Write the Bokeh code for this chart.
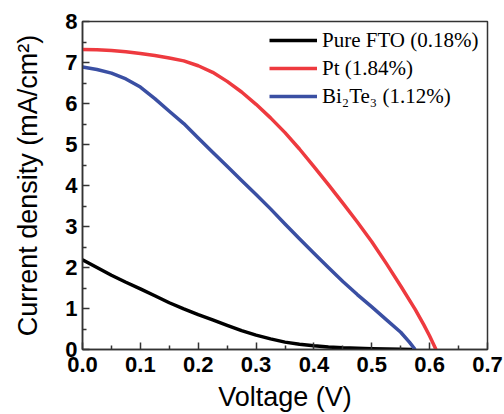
from bokeh.plotting import figure
from bokeh.models import Range1d, FixedTicker, PrintfTickFormatter, Legend, LegendItem
from bokeh.embed import file_html
from bokeh.resources import INLINE

# Data
voltage_fto = [0.0, 0.025, 0.05, 0.075, 0.1, 0.125, 0.15, 0.175, 0.2, 0.225, 0.25, 0.275, 0.3,
               0.325, 0.35, 0.375, 0.4, 0.425, 0.45, 0.475, 0.5, 0.525, 0.55, 0.57]
current_fto = [2.19, 2.0, 1.81, 1.64, 1.48, 1.31, 1.14, 0.99, 0.85, 0.72, 0.59, 0.46, 0.35,
               0.26, 0.18, 0.13, 0.09, 0.06, 0.04, 0.03, 0.02, 0.01, 0.005, 0.0]

voltage_pt = [0.0, 0.025, 0.05, 0.075, 0.1, 0.125, 0.15, 0.175, 0.2, 0.225, 0.25, 0.275, 0.3,
              0.325, 0.35, 0.375, 0.4, 0.425, 0.45, 0.475, 0.5, 0.525, 0.55, 0.575, 0.59, 0.6, 0.611]
current_pt = [7.32, 7.31, 7.29, 7.26, 7.22, 7.17, 7.11, 7.04, 6.92, 6.76, 6.54, 6.28, 5.98,
              5.65, 5.29, 4.89, 4.46, 4.02, 3.57, 3.11, 2.63, 2.1, 1.55, 0.98, 0.6, 0.33, 0.0]

voltage_bi = [0.0, 0.025, 0.05, 0.075, 0.1, 0.125, 0.15, 0.175, 0.2, 0.225, 0.25, 0.275, 0.3,
              0.325, 0.35, 0.375, 0.4, 0.425, 0.45, 0.475, 0.5, 0.525, 0.55, 0.565, 0.575]
current_bi = [6.89, 6.83, 6.74, 6.6, 6.4, 6.12, 5.81, 5.51, 5.16, 4.81, 4.47, 4.12, 3.78,
              3.43, 3.06, 2.7, 2.35, 2.0, 1.66, 1.34, 1.04, 0.73, 0.42, 0.18, 0.0]

series_labels = ["Pure FTO (0.18%)", "Pt (1.84%)", "Bi\u2082Te\u2083 (1.12%)"]
x_ticks = [0.0, 0.1, 0.2, 0.3, 0.4, 0.5, 0.6, 0.7]
y_ticks = [0, 1, 2, 3, 4, 5, 6, 7, 8]

p = figure(width=504, height=414, output_backend="svg", toolbar_location=None,
           x_range=Range1d(0, 0.7), y_range=Range1d(0, 8),
           min_border_left=82, min_border_right=17, min_border_top=21, min_border_bottom=65)

r_fto = p.line(voltage_fto, current_fto, line_color="#000000", line_width=3.5, line_join="round")
r_pt = p.line(voltage_pt, current_pt, line_color="#EE3A3F", line_width=3.5, line_join="round")
r_bi = p.line(voltage_bi, current_bi, line_color="#3A4FA3", line_width=3.5, line_join="round")

p.xgrid.visible = False
p.ygrid.visible = False
p.outline_line_color = "#333333"
p.outline_line_width = 1.5
p.background_fill_color = "white"
p.border_fill_color = "white"

for ax in (p.xaxis[0], p.yaxis[0]):
    ax.axis_line_color = "#333333"
    ax.axis_line_width = 1.5
    ax.major_tick_line_color = "#333333"
    ax.minor_tick_line_color = "#333333"
    ax.major_tick_line_width = 1.5
    ax.minor_tick_line_width = 1.5
    ax.major_tick_in = 7
    ax.major_tick_out = 0
    ax.minor_tick_in = 4
    ax.minor_tick_out = 0
    ax.major_label_text_font = "Liberation Sans"
    ax.major_label_text_font_style = "bold"
    ax.major_label_text_font_size = "22px"
    ax.major_label_text_color = "#000000"
    ax.axis_label_text_font = "Liberation Sans"
    ax.axis_label_text_font_style = "normal"
    ax.axis_label_text_font_size = "27px"
    ax.axis_label_text_color = "#000000"

p.xaxis[0].ticker = FixedTicker(ticks=x_ticks, minor_ticks=[0.05, 0.15, 0.25, 0.35, 0.45, 0.55, 0.65])
p.yaxis[0].ticker = FixedTicker(ticks=y_ticks, minor_ticks=[0.5, 1.5, 2.5, 3.5, 4.5, 5.5, 6.5, 7.5])
p.xaxis[0].formatter = PrintfTickFormatter(format="%.1f")
p.yaxis[0].formatter = PrintfTickFormatter(format="%d")
p.xaxis[0].major_label_standoff = 7
p.yaxis[0].major_label_standoff = 5
p.xaxis[0].axis_label = "Voltage (V)"
p.yaxis[0].axis_label = "Current density (mA/cm\u00b2)"
p.xaxis[0].axis_label_standoff = 7
p.yaxis[0].axis_label_standoff = 19

legend = Legend(items=[LegendItem(label=series_labels[0], renderers=[r_fto]),
                       LegendItem(label=series_labels[1], renderers=[r_pt]),
                       LegendItem(label=series_labels[2], renderers=[r_bi])],
                location=(187, 239))
legend.border_line_alpha = 0
legend.background_fill_alpha = 0
legend.padding = 0
legend.margin = 0
legend.spacing = 0
legend.glyph_width = 48
legend.glyph_height = 28
legend.label_standoff = 5
legend.label_text_font = "Liberation Serif"
legend.label_text_font_size = "21px"
legend.label_text_color = "#000000"
legend.label_height = 28
p.add_layout(legend)

open("out.html", "w").write(file_html(p, INLINE))
